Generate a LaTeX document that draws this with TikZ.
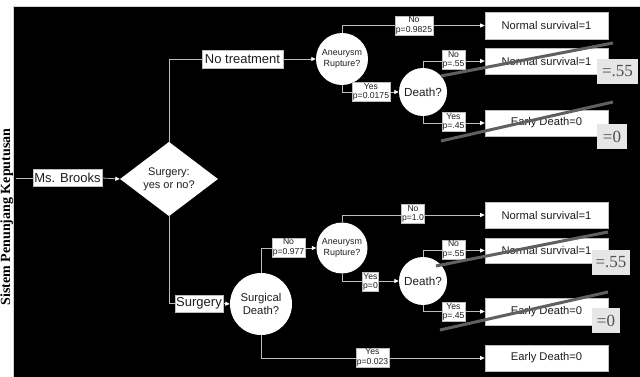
\documentclass[tikz,border=0pt]{standalone}
\usepackage{fontspec}
\setmainfont{Liberation Sans}
\newfontfamily\titleserif{Liberation Serif}
\usetikzlibrary{shapes.geometric,arrows.meta}
\definecolor{wirec}{HTML}{BDBDBD}
\definecolor{inkc}{HTML}{1E1E1E}
\definecolor{strikec}{HTML}{606060}
\definecolor{valfill}{HTML}{E6E6E6}
\definecolor{valink}{HTML}{505050}
\tikzset{
  wire/.style={draw=wirec, line width=0.8pt},
  arr/.style={wire, -{Triangle[length=4.5pt,width=4pt,color=white]}},
  termbox/.style={rectangle, fill=white, draw=wirec, line width=0.6pt, inner sep=0pt,
    text=inkc, font=\fontsize{11.2}{13}\selectfont},
  namebox/.style={rectangle, fill=white, draw=wirec, line width=0.6pt, inner sep=0pt,
    text=inkc, font=\fontsize{13}{15}\selectfont},
  lab/.style={rectangle, fill=white, draw=wirec, line width=0.5pt, inner sep=0.8pt,
    align=center, text=inkc, font=\fontsize{8.6}{9.6}\selectfont},
  chance/.style={circle, fill=white, draw=none, inner sep=0pt, align=center, text=inkc},
  strike/.style={draw=strikec, line width=3pt},
  valbox/.style={rectangle, fill=valfill, draw=none, inner sep=0pt, text=valink,
    font=\titleserif\fontsize{17}{19}\selectfont},
}
\begin{document}
\begin{tikzpicture}[x=1pt, y=-1pt]
\useasboundingbox (0,0) rectangle (640,377);
\fill[white] (0,0) rectangle (640,377);
% page caption, running up the left margin
\node[rotate=90, anchor=base, inner sep=0pt, font=\titleserif\bfseries\fontsize{14}{16}\selectfont]
  (caption) at (10,217) {Sistem Penunjang Keputusan};
% dark panel
\filldraw[fill=black, draw=wirec!70, line width=0.6pt] (13,6) rectangle (641,378);

% ---- decision and chance nodes ----
\node[namebox, minimum width=69, minimum height=17] (brooks) at (67.5,178) {Ms. Brooks};
\node[diamond, fill=white, inner sep=0pt, minimum width=98, minimum height=74, align=center,
  text=inkc, font=\fontsize{11}{13}\selectfont] (choice) at (169,179) {Surgery:\\yes or no?};

\node[namebox, minimum width=81, minimum height=18] (notreat) at (242.5,59) {No treatment};
\node[chance, minimum size=52, font=\fontsize{8.9}{10.5}\selectfont] (rupA) at (342,59) {Aneurysm\\Rupture?};
\node[chance, minimum size=48, font=\fontsize{11.7}{13}\selectfont] (deathA) at (423,92) {Death?};

\node[namebox, minimum width=48, minimum height=17] (surg) at (199,303.5) {Surgery};
\node[chance, minimum size=62, font=\fontsize{11.3}{13.5}\selectfont] (surgdeath) at (261,304) {Surgical\\Death?};
\node[chance, minimum size=51, font=\fontsize{8.9}{10.5}\selectfont] (rupB) at (342,248) {Aneurysm\\Rupture?};
\node[chance, minimum size=48, font=\fontsize{11.7}{13}\selectfont] (deathB) at (423,281) {Death?};

% ---- outcomes ----
\node[termbox, minimum width=123, minimum height=27] (outA1) at (546.5,25.5) {Normal survival=1};
\node[termbox, minimum width=123, minimum height=26] (outA2) at (546.5,61) {Normal survival=1};
\node[termbox, minimum width=123, minimum height=26] (outA3) at (546.5,123) {Early Death=0};
\node[termbox, minimum width=123, minimum height=26] (outB1) at (546.5,215) {Normal survival=1};
\node[termbox, minimum width=123, minimum height=25] (outB2) at (546.5,250.5) {Normal survival=1};
\node[termbox, minimum width=123, minimum height=27] (outB3) at (546.5,311.5) {Early Death=0};
\node[termbox, minimum width=123, minimum height=26] (outB4) at (546.5,358) {Early Death=0};

% ---- branches ----
\coordinate (lead) at (16,178);
\draw[wire] (lead) -- (brooks.west);
\draw[arr] (brooks.east) -- (choice.west);
\draw[wire] (choice.north) |- (notreat.west);
\draw[wire] (choice.south) |- (surg.west);

\draw[arr] (notreat.east) -- (rupA.west);
\draw[arr] (rupA.north) |- (outA1.west);
\draw[arr] (rupA.south) |- (deathA.west);
\draw[arr] (deathA.north) |- (outA2.west);
\draw[arr] (deathA.south) |- (outA3.west);

\draw[arr] (surg.east) -- (surgdeath.west);
\draw[arr] (surgdeath.north) |- (rupB.west);
\draw[arr] (surgdeath.south) |- (outB4.west);
\draw[arr] (rupB.north) |- (outB1.west);
\draw[arr] (rupB.south) |- (deathB.west);
\draw[arr] (deathB.north) |- (outB2.west);
\draw[arr] (deathB.south) |- (outB3.west);

% ---- branch probabilities ----
\node[lab] (pA1) at (414,25.5) {No\\p=0.9825};
\node[lab] (pA2) at (371,92) {Yes\\p=0.0175};
\node[lab] (pA3) at (453.5,60) {No\\p=.55};
\node[lab] (pA4) at (453.5,122) {Yes\\p=.45};
\node[lab] (pB0) at (288.5,247.5) {No\\p=0.977};
\node[lab] (pB1) at (413,214) {No\\p=1.0};
\node[lab] (pB2) at (370.5,282) {Yes\\p=0};
\node[lab] (pB3) at (453.5,249.5) {No\\p=.55};
\node[lab] (pB4) at (453.5,312) {Yes\\p=.45};
\node[lab] (pB5) at (372.5,357.5) {Yes\\p=0.023};

% ---- hand corrections ----
\coordinate (sA1s) at (441,76);  \coordinate (sA1e) at (613,43);
\coordinate (sA2s) at (441,141); \coordinate (sA2e) at (613,102);
\coordinate (sB1s) at (436,266); \coordinate (sB1e) at (608,232);
\coordinate (sB2s) at (440,330); \coordinate (sB2e) at (608,292);
\draw[strike] (sA1s) -- (sA1e);
\draw[strike] (sA2s) -- (sA2e);
\draw[strike] (sB1s) -- (sB1e);
\draw[strike] (sB2s) -- (sB2e);

\node[valbox, minimum width=41, minimum height=25] (vA1) at (617.5,71.5) {=.55};
\node[valbox, minimum width=30, minimum height=25] (vA2) at (612,136.5) {=0};
\node[valbox, minimum width=38, minimum height=25] (vB1) at (611,262.5) {=.55};
\node[valbox, minimum width=28, minimum height=25] (vB2) at (606,320.5) {=0};
\end{tikzpicture}
\end{document}
